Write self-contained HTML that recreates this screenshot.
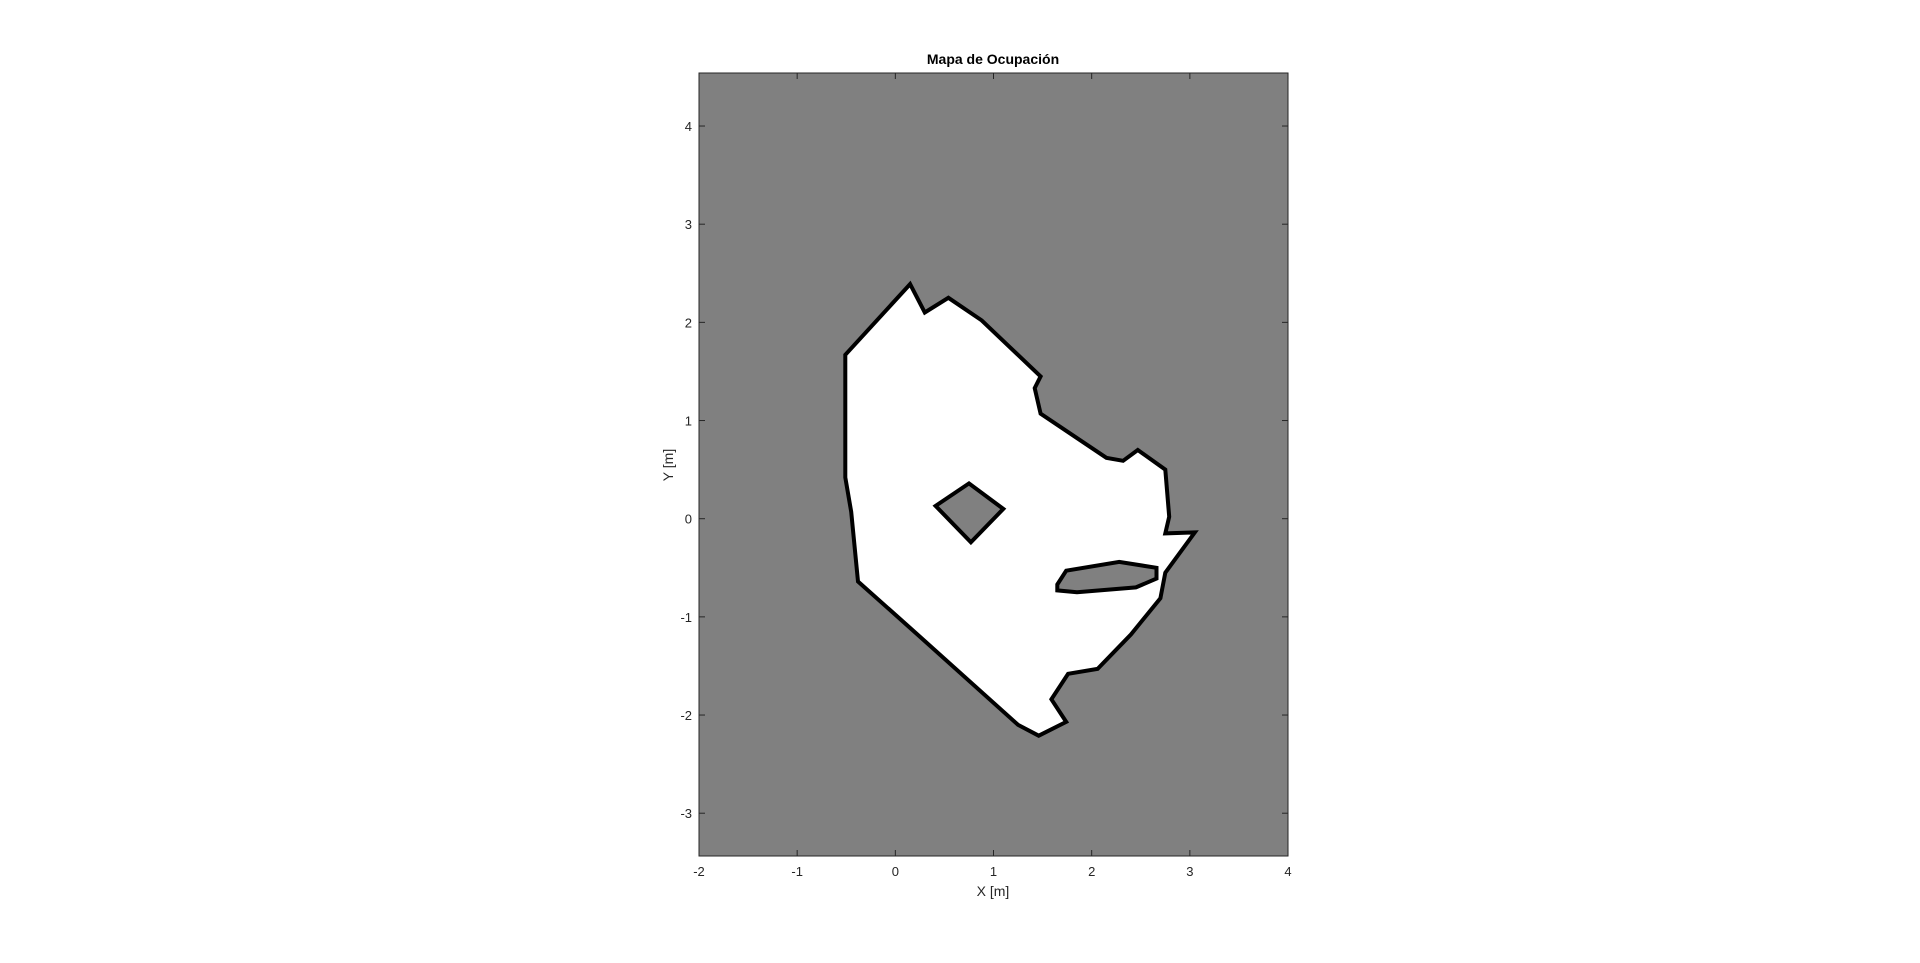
<!DOCTYPE html>
<html><head><meta charset="utf-8"><style>
html,body{margin:0;padding:0;background:#fff;width:1920px;height:963px;overflow:hidden}
svg text{font-family:"Liberation Sans",Arial,sans-serif}
</style></head><body>
<svg id="chart" width="1920" height="963" xmlns="http://www.w3.org/2000/svg">
<defs><clipPath id="clip"><rect x="699" y="73" width="589" height="783"/></clipPath></defs>
<rect x="699" y="73" width="589" height="783" fill="#808080"/>
<g id="marks" clip-path="url(#clip)"></g>
<rect x="699" y="73" width="589" height="783" fill="none" stroke="#262626" stroke-width="1"/>
<g id="ticks"></g>
<text x="993" y="64" text-anchor="middle" font-size="14" font-weight="bold" fill="#000">Mapa de Ocupación</text>
<text x="993" y="896" text-anchor="middle" font-size="14" fill="#262626">X [m]</text>
<text transform="translate(673,465) rotate(-90)" text-anchor="middle" font-size="14" fill="#262626">Y [m]</text>
</svg>
<script>
const xTicks=[-2,-1,0,1,2,3,4];
const yTicks=[-3,-2,-1,0,1,2,3,4];
const outerX=[-0.51,0.15,0.30,0.54,0.88,1.48,1.42,1.48,2.15,2.32,2.47,2.75,2.79,2.75,3.05,2.75,2.70,2.40,2.06,1.76,1.59,1.74,1.46,1.25,0.17,-0.38,-0.45,-0.51];
const outerY=[1.67,2.39,2.10,2.25,2.02,1.45,1.33,1.07,0.62,0.59,0.70,0.50,0.02,-0.15,-0.14,-0.55,-0.81,-1.18,-1.53,-1.58,-1.84,-2.07,-2.21,-2.10,-1.13,-0.64,0.07,0.42];
const pillarX=[0.41,0.75,1.10,0.77];
const pillarY=[0.13,0.36,0.10,-0.24];
const slitX=[1.65,1.74,2.28,2.66,2.66,2.45,1.85,1.65];
const slitY=[-0.67,-0.53,-0.44,-0.50,-0.61,-0.70,-0.75,-0.73];
const NS="http://www.w3.org/2000/svg";
const sc=98.17;
function xs(v){return 699+(v+2)*sc;}
function ys(v){return 518.7-v*sc;}
function pts(X,Y){return X.map((x,i)=>xs(x).toFixed(1)+','+ys(Y[i]).toFixed(1)).join(' ');}
const marks=document.getElementById('marks');
function poly(X,Y,fill,name){
  const p=document.createElementNS(NS,'polygon');
  p.setAttribute('points',pts(X,Y));
  p.setAttribute('fill',fill);
  p.setAttribute('stroke','#000');
  p.setAttribute('stroke-width','4');
  p.setAttribute('stroke-linejoin','miter');
  
  
  marks.appendChild(p);
}
poly(outerX,outerY,'#fff','free-space-region');
poly(pillarX,pillarY,'#808080','obstacle-pillar');
poly(slitX,slitY,'#808080','obstacle-slit');
const t=document.getElementById('ticks');
xTicks.forEach(v=>{
  const x=xs(v);
  const l1=document.createElementNS(NS,'line');
  l1.setAttribute('x1',x);l1.setAttribute('x2',x);l1.setAttribute('y1',856);l1.setAttribute('y2',850);
  l1.setAttribute('stroke','#262626');
  
  
  t.appendChild(l1);
  const l2=document.createElementNS(NS,'line');
  l2.setAttribute('x1',x);l2.setAttribute('x2',x);l2.setAttribute('y1',73);l2.setAttribute('y2',79);
  l2.setAttribute('stroke','#262626');
  
  
  t.appendChild(l2);
  const tx=document.createElementNS(NS,'text');
  tx.setAttribute('x',x);tx.setAttribute('y',876);tx.setAttribute('text-anchor','middle');
  tx.setAttribute('font-size','13');tx.setAttribute('fill','#262626');
  
  
  tx.textContent=v;t.appendChild(tx);
});
yTicks.forEach(v=>{
  const y=ys(v);
  const l1=document.createElementNS(NS,'line');
  l1.setAttribute('x1',699);l1.setAttribute('x2',705);l1.setAttribute('y1',y);l1.setAttribute('y2',y);
  l1.setAttribute('stroke','#262626');
  
  
  t.appendChild(l1);
  const l2=document.createElementNS(NS,'line');
  l2.setAttribute('x1',1282);l2.setAttribute('x2',1288);l2.setAttribute('y1',y);l2.setAttribute('y2',y);
  l2.setAttribute('stroke','#262626');
  
  
  t.appendChild(l2);
  const tx=document.createElementNS(NS,'text');
  tx.setAttribute('x',692);tx.setAttribute('y',y+5);tx.setAttribute('text-anchor','end');
  tx.setAttribute('font-size','13');tx.setAttribute('fill','#262626');
  
  
  tx.textContent=v;t.appendChild(tx);
});
</script>
</body></html>
